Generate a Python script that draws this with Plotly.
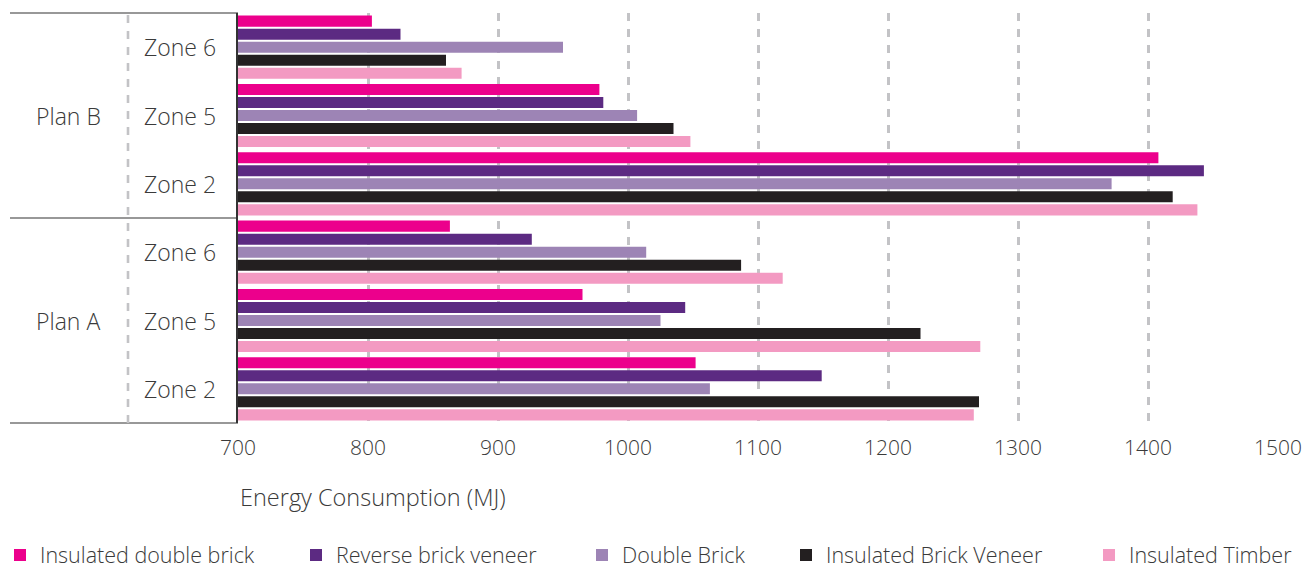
import plotly.graph_objects as go

# ---- data ----
categories = ["Plan B|Zone 6", "Plan B|Zone 5", "Plan B|Zone 2",
              "Plan A|Zone 6", "Plan A|Zone 5", "Plan A|Zone 2"]
plan_labels = ["Plan B", "Plan A"]
zone_labels = ["Zone 6", "Zone 5", "Zone 2", "Zone 6", "Zone 5", "Zone 2"]
series_names = ["Insulated double brick", "Reverse brick veneer", "Double Brick",
                "Insulated Brick Veneer", "Insulated Timber"]
insulated_double_brick = [803, 978, 1408, 863, 965, 1052]
reverse_brick_veneer = [825, 981, 1443, 926, 1044, 1149]
double_brick = [950, 1007, 1372, 1014, 1025, 1063]
insulated_brick_veneer = [860, 1035, 1419, 1087, 1225, 1270]
insulated_timber = [872, 1048, 1438, 1119, 1271, 1266]
x_ticks = [700, 800, 900, 1000, 1100, 1200, 1300, 1400, 1500]

series_values = [insulated_double_brick, reverse_brick_veneer, double_brick,
                 insulated_brick_veneer, insulated_timber]
colors = ["#ec008c", "#5c2a82", "#9d84b5", "#231f20", "#f39ac2"]

FONT = "Open Sans"
TXT = "#3a3a3a"

W, H = 1303, 565
L, R, T, B = 238, 25, 13, 142
PW, PH = W - L - R, H - T - B

def px_x(p):
    return (p - L) / PW

def px_y(p):
    return (H - B - p) / PH

fig = go.Figure()
legend_px = [10, 310, 596, 800, 1103]
for i, (name, vals, col) in enumerate(zip(series_names, series_values, colors)):
    lg = "legend" if i == 0 else f"legend{i+1}"
    fig.add_trace(go.Bar(
        y=categories, x=vals, name=name, orientation="h",
        marker=dict(color=col, line=dict(width=0)),
        legend=lg, base=0, showlegend=True,
    ))

layout_legends = {}
for i, p in enumerate(legend_px):
    key = "legend" if i == 0 else f"legend{i+1}"
    layout_legends[key] = dict(
        xref="container", yref="container",
        x=max(0, (p - 14) / W), xanchor="left", y=(H - 555) / H, yanchor="middle",
        orientation="h", bgcolor="rgba(0,0,0,0)", borderwidth=0,
        font=dict(family=FONT, size=21.5, color=TXT, weight=300),
    )

fig.update_layout(
    width=W, height=H, showlegend=True,
    margin=dict(l=L, r=R, t=T, b=B, autoexpand=False),
    paper_bgcolor="white", plot_bgcolor="white",
    barmode="group", bargap=0.048, bargroupgap=0.15,
    font=dict(family=FONT, color=TXT, size=18, weight=300),
    **layout_legends,
)

fig.update_xaxes(
    range=[700, 1500], tickvals=x_ticks, ticktext=[str(v) for v in x_ticks],
    showgrid=True, gridcolor="#c3c3c6", gridwidth=2.6, griddash="8px,8px",
    zeroline=False, showline=False, ticks="", ticklabelstandoff=10,
    tickfont=dict(family=FONT, size=21, color=TXT, weight=300),
)
fig.update_yaxes(
    type="category", categoryorder="array", categoryarray=categories,
    range=[5.5, -0.5], showticklabels=False, showgrid=False, zeroline=False,
    showline=True, linecolor="#333333", linewidth=1.5, ticks="",
)

# axis title
fig.add_annotation(text="Energy Consumption (MJ)", xref="paper", yref="paper",
                   x=0, y=px_y(497), xanchor="left", yanchor="middle", showarrow=False,
                   font=dict(family=FONT, size=23.5, color=TXT, weight=300))

# category labels
for cat, z in zip(categories, zone_labels):
    fig.add_annotation(text=z, xref="paper", yref="y", x=px_x(142), y=cat,
                       xanchor="left", yanchor="middle", showarrow=False,
                       font=dict(family=FONT, size=23, color=TXT, weight=300))
for plan, cat in zip(plan_labels, [categories[1], categories[4]]):
    fig.add_annotation(text=plan, xref="paper", yref="y", x=px_x(68), y=cat,
                       xanchor="center", yanchor="middle", showarrow=False,
                       font=dict(family=FONT, size=23, color=TXT, weight=300))

# label frame lines
for yv in (1, 0):
    fig.add_shape(type="line", xref="paper", yref="paper", x0=px_x(10), x1=0, y0=yv, y1=yv,
                  line=dict(color="#333333", width=1.2))
fig.add_shape(type="line", xref="paper", yref="y", x0=px_x(10), x1=0, y0=2.5, y1=2.5,
              line=dict(color="#333333", width=1.2))
fig.add_shape(type="line", xref="paper", yref="paper", x0=px_x(128), x1=px_x(128), y0=0, y1=1,
              line=dict(color="#c3c3c6", width=2.6, dash="8px,8px"))

fig.write_html("out.html")
